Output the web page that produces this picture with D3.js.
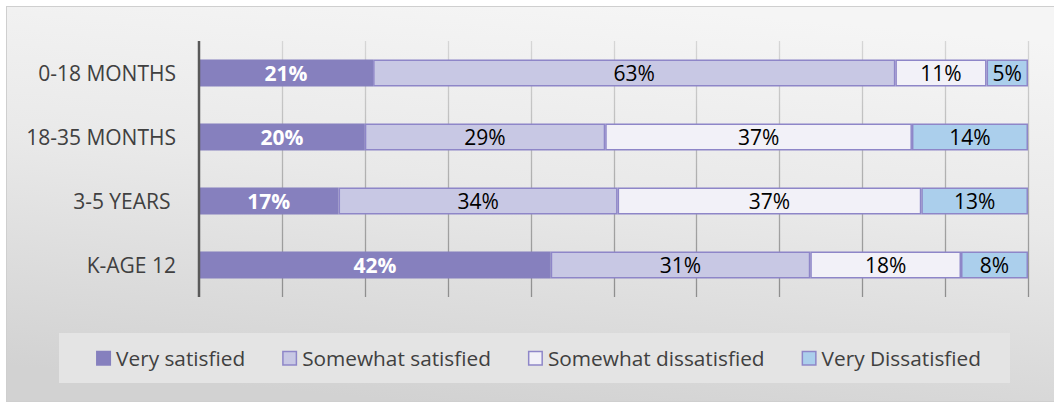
<!DOCTYPE html>
<html>
<head>
<meta charset="utf-8">
<script src="https://cdn.jsdelivr.net/npm/d3@7"></script>
<style>
  html, body { margin: 0; padding: 0; background: #ffffff; }
  svg { display: block; }
  text { font-family: "Open Sans", "DejaVu Sans", sans-serif; }
</style>
</head>
<body>
<div id="chart"></div>
<script>
// Satisfaction by age group (100% stacked bars)
const categories = ["0-18 MONTHS", "18-35 MONTHS", "3-5 YEARS ", "K-AGE 12"];
const seriesNames = ["Very satisfied", "Somewhat satisfied", "Somewhat dissatisfied", "Very Dissatisfied"];
const verySatisfied        = [21, 20, 17, 42];
const somewhatSatisfied    = [63, 29, 34, 31];
const somewhatDissatisfied = [11, 37, 37, 18];
const veryDissatisfied     = [5, 14, 13, 8];
const gridTicks = [0, 0.1, 0.2, 0.3, 0.4, 0.5, 0.6, 0.7, 0.8, 0.9, 1];

const fills   = ["#8680be", "#c8c8e4", "#f2f1f8", "#abcfec"];
const strokes = ["#8680be", "#8e86c8", "#8e86c8", "#8e86c8"];
const labelColors = ["#ffffff", "#000000", "#000000", "#000000"];

const W = 1054, H = 402;
const svg = d3.select("#chart").append("svg").attr("width", W).attr("height", H);
const defs = svg.append("defs");

// background panel gradient
const bg = defs.append("linearGradient").attr("id", "bgGrad")
  .attr("x1", "0.62").attr("y1", "0").attr("x2", "0.38").attr("y2", "1");
bg.append("stop").attr("offset", "0").attr("stop-color", "#f5f5f5");
bg.append("stop").attr("offset", "0.45").attr("stop-color", "#e9e9e9");
bg.append("stop").attr("offset", "1").attr("stop-color", "#d2d2d2");

// gridline gradient (lighter at top, darker at bottom)
const gg = defs.append("linearGradient").attr("id", "gridGrad")
  .attr("gradientUnits", "userSpaceOnUse")
  .attr("x1", 0).attr("y1", 41).attr("x2", 0).attr("y2", 297);
gg.append("stop").attr("offset", "0").attr("stop-color", "#d6d6d6");
gg.append("stop").attr("offset", "1").attr("stop-color", "#8e8e8e");

svg.append("rect")
  .attr("x", 6.5).attr("y", 6.5).attr("width", W - 6).attr("height", H - 7)
  .attr("fill", "url(#bgGrad)").attr("stroke", "#cfcfcf").attr("stroke-width", 1);

const plot = { left: 199, right: 1028, top: 41, bottom: 297 };

const x = d3.scaleLinear().domain([0, 1]).range([plot.left, plot.right]);
const y = d3.scaleBand().domain(categories)
  .range([plot.top, plot.bottom]).paddingInner(0.578).paddingOuter(0.289);

// rows of the table, normalised per row by the stack offset
const rows = categories.map((c, i) => ({
  cat: c,
  s0: verySatisfied[i], s1: somewhatSatisfied[i],
  s2: somewhatDissatisfied[i], s3: veryDissatisfied[i]
}));
const keys = ["s0", "s1", "s2", "s3"];
const stacked = d3.stack().keys(keys).offset(d3.stackOffsetExpand)(rows);

// vertical gridlines
svg.append("g").selectAll("line").data(gridTicks.slice(1)).join("line")
  .attr("x1", d => Math.round(x(d)) + 0.5).attr("x2", d => Math.round(x(d)) + 0.5)
  .attr("y1", plot.top).attr("y2", plot.bottom)
  .attr("stroke", "url(#gridGrad)").attr("stroke-width", 1.3);

// bars
const layers = svg.append("g").selectAll("g").data(stacked).join("g")
  .attr("fill", (d, i) => fills[i]).attr("stroke", (d, i) => strokes[i]);

layers.selectAll("rect").data(d => d).join("rect")
  .attr("x", d => x(d[0]) + 0.75)
  .attr("width", d => Math.max(0, x(d[1]) - x(d[0]) - 1.5))
  .attr("y", d => y(d.data.cat) + 0.75)
  .attr("height", y.bandwidth() - 1.5)
  .attr("stroke-width", 1.5);

// category axis line
svg.append("line")
  .attr("x1", plot.left).attr("x2", plot.left)
  .attr("y1", plot.top).attr("y2", plot.bottom)
  .attr("stroke", "#595959").attr("stroke-width", 2.5);

// category labels
svg.append("g").selectAll("text").data(categories).join("text")
  .attr("x", 176).attr("y", d => y(d) + y.bandwidth() / 2)
  .attr("dy", "0.36em").attr("text-anchor", "end")
  .style("white-space", "pre")
  .attr("font-size", 21).attr("fill", "#404040")
  .text(d => d);

// data labels: the value of each segment, centred in it
const valueSets = [verySatisfied, somewhatSatisfied, somewhatDissatisfied, veryDissatisfied];
stacked.forEach((layer, si) => {
  svg.append("g").selectAll("text").data(layer).join("text")
    .attr("x", d => (x(d[0]) + x(d[1])) / 2)
    .attr("y", d => y(d.data.cat) + y.bandwidth() / 2)
    .attr("dy", "0.36em").attr("text-anchor", "middle")
    .attr("font-size", 21)
    .attr("font-weight", si === 0 ? 700 : 400)
    .attr("fill", labelColors[si])
    .text((d, i) => valueSets[si][i] + "%");
});

// legend
svg.append("rect")
  .attr("x", 59).attr("y", 333).attr("width", 951).attr("height", 50)
  .attr("fill", "#e4e4e4");

const legend = svg.append("g");
const items = legend.selectAll("g").data(seriesNames).join("g");
items.append("rect")
  .attr("width", 13.5).attr("height", 13.5).attr("x", 0.75).attr("y", 351.5)
  .attr("fill", (d, i) => fills[i]).attr("stroke", (d, i) => strokes[i]).attr("stroke-width", 1.5);
items.append("text")
  .attr("x", 20).attr("y", 358.5).attr("dy", "0.36em")
  .attr("font-size", 20.8).attr("fill", "#404040")
  .text(d => d);

let offsets = [], cursor = 0;
items.each(function () {
  offsets.push(cursor);
  const tw = d3.select(this).select("text").node().getComputedTextLength();
  cursor += 20 + tw + 37;
});
const totalW = cursor - 37;
const startX = 538.5 - totalW / 2;
items.attr("transform", (d, i) => `translate(${startX + offsets[i]},0)`);
</script>
</body>
</html>
